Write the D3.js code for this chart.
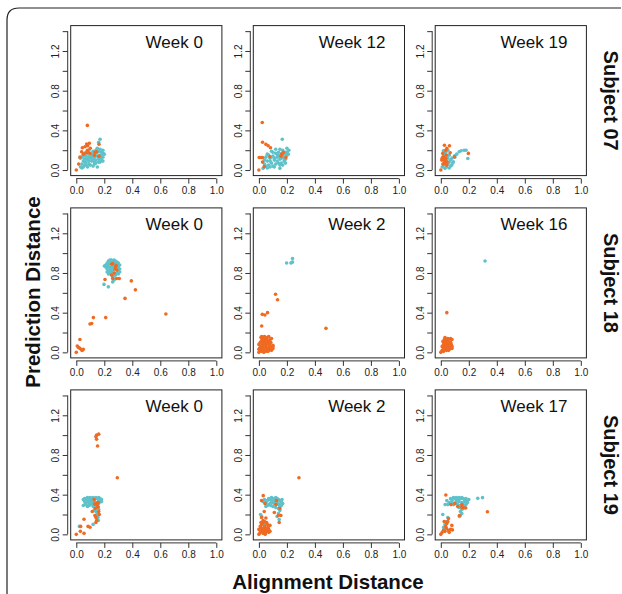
<!DOCTYPE html>
<html><head><meta charset="utf-8">
<script src="https://cdn.jsdelivr.net/npm/d3@7"></script>
<style>body{margin:0;background:#fff}svg{display:block}text{font-family:"Liberation Sans",Arial,Helvetica,sans-serif}</style>
</head><body>
<script>
const subjects = ["Subject 07", "Subject 18", "Subject 19"];
const weekLabels = [["Week 0", "Week 12", "Week 19"], ["Week 0", "Week 2", "Week 16"], ["Week 0", "Week 2", "Week 17"]];
const xTicks = [0, 0.2, 0.4, 0.6, 0.8, 1.0];
const yTicks = [0, 0.2, 0.4, 0.6, 0.8, 1.0, 1.2, 1.4];
const yLabelTicks = [0, 0.4, 0.8, 1.2];
const xTitle = "Alignment Distance";
const yTitle = "Prediction Distance";

// Subject 07
const s07w0Cyan = [[0.17,0.31],[0.16,0.28],[0.15,0.22],[0.17,0.21],[0.19,0.20],[0.18,0.18],[0.2,0.16],[0.19,0.13],[0.17,0.12],[0.18,0.10],[0.16,0.08],[0.15,0.03],[0.13,0.06],[0.14,0.10],[0.13,0.13],[0.14,0.17],[0.12,0.19],[0.11,0.16],[0.10,0.12],[0.11,0.09],[0.09,0.06],[0.08,0.03],[0.07,0.08],[0.06,0.11],[0.07,0.14],[0.08,0.17],[0.09,0.2],[0.06,0.05],[0.05,0.09],[0.04,0.13],[0.03,0.12],[0.04,0.06],[0.04,0.02],[0.05,0.03],[0.06,0.17],[0.1,0.05],[0.12,0.04],[0.12,0.11],[0.13,0.08],[0.15,0.14],[0.16,0.11],[0.17,0.15],[0.15,0.18],[0.14,0.2],[0.18,0.14],[0.19,0.17],[0.16,0.19],[0.11,0.13],[0.09,0.09],[0.08,0.11],[0.07,0.05],[0.1,0.15],[0.12,0.15],[0.17,0.08],[0.19,0.09],[0.14,0.07],[0.09,0.13],[0.06,0.08],[0.05,0.14],[0.03,0.03]];
const s07w0Orange = [[0.0,0.0],[0.017,0.06],[0.026,0.13],[0.079,0.45],[0.043,0.225],[0.062,0.235],[0.081,0.245],[0.093,0.27],[0.069,0.175],[0.05,0.16],[0.10,0.22],[0.129,0.15],[0.145,0.185],[0.162,0.14],[0.162,0.26],[0.098,0.17],[0.079,0.20],[0.038,0.185],[0.074,0.262],[0.086,0.174],[0.133,0.18]];
const s07w12Cyan = [[0.167,0.31],[0.15,0.017],[0.03,0.017],[0.214,0.2],[0.2,0.22],[0.19,0.18],[0.2,0.15],[0.18,0.12],[0.17,0.2],[0.16,0.16],[0.15,0.21],[0.14,0.18],[0.13,0.13],[0.12,0.17],[0.11,0.1],[0.1,0.14],[0.09,0.19],[0.08,0.12],[0.07,0.15],[0.06,0.09],[0.05,0.13],[0.04,0.06],[0.05,0.04],[0.07,0.05],[0.09,0.07],[0.1,0.04],[0.12,0.06],[0.13,0.09],[0.15,0.11],[0.16,0.07],[0.18,0.09],[0.19,0.11],[0.17,0.14],[0.14,0.14],[0.11,0.12],[0.08,0.09],[0.06,0.16],[0.1,0.18],[0.12,0.21],[0.13,0.16],[0.2,0.18],[0.21,0.16],[0.18,0.16],[0.16,0.12],[0.15,0.05],[0.11,0.03],[0.08,0.03],[0.06,0.02],[0.04,0.1],[0.14,0.07],[0.17,0.05],[0.19,0.07]];
const s07w12Orange = [[0.024,0.48],[0.0,0.0],[0.026,0.28],[0.05,0.26],[0.066,0.245],[0.083,0.225],[0.002,0.127],[0.026,0.127],[0.026,0.08],[0.038,0.034],[0.079,0.134],[0.162,0.16],[0.174,0.178],[0.193,0.127],[0.157,0.14],[0.016,0.127]];
const s07w19Cyan = [[0.166,0.2],[0.145,0.195],[0.131,0.185],[0.114,0.16],[0.193,0.117],[0.098,0.144],[0.019,0.195],[0.03,0.017],[0.078,0.05],[0.09,0.084],[0.18,0.2],[0.01,0.03],[0.02,0.05],[0.04,0.03],[0.05,0.06],[0.06,0.08],[0.07,0.1],[0.05,0.12],[0.03,0.14],[0.06,0.15],[0.08,0.12],[0.04,0.09],[0.02,0.1],[0.07,0.04],[0.06,0.02],[0.03,0.07],[0.085,0.07],[0.1,0.13],[0.02,0.17],[0.015,0.13],[0.035,0.18],[0.05,0.2]];
const s07w19Orange = [[0,0],[0.026,0.25],[0.062,0.245],[0.043,0.22],[0.019,0.134],[0.007,0.1],[0.036,0.117],[0.067,0.174],[0.098,0.134],[0.197,0.168],[0.024,0.067],[0.043,0.05],[0.014,0.168],[0.01,0.12],[0.03,0.09],[0.02,0.11],[0.04,0.15],[0.045,0.08],[0.015,0.06],[0.035,0.2]];

// Subject 18
const s18w0Cyan = [[0.198,0.685],[0.229,0.66],[0.26,0.71],[0.27,0.73],[0.21,0.88],[0.22,0.9],[0.23,0.92],[0.24,0.93],[0.25,0.93],[0.26,0.92],[0.27,0.93],[0.28,0.92],[0.29,0.91],[0.3,0.9],[0.31,0.88],[0.3,0.86],[0.31,0.84],[0.3,0.82],[0.29,0.8],[0.28,0.78],[0.27,0.77],[0.26,0.76],[0.25,0.78],[0.24,0.8],[0.23,0.82],[0.22,0.84],[0.21,0.86],[0.2,0.87],[0.22,0.87],[0.24,0.89],[0.26,0.9],[0.28,0.89],[0.29,0.87],[0.27,0.86],[0.25,0.85],[0.23,0.86],[0.24,0.83],[0.26,0.83],[0.28,0.84],[0.29,0.83],[0.27,0.8],[0.25,0.81],[0.23,0.79],[0.26,0.87],[0.28,0.86],[0.3,0.88],[0.25,0.91],[0.23,0.89],[0.27,0.89],[0.29,0.85],[0.24,0.86],[0.22,0.81],[0.3,0.79],[0.31,0.81]];
const s18w0Orange = [[0,0],[0.007,0.064],[0.026,0.04],[0.038,0.024],[0.026,0.13],[0.043,0.02],[0.098,0.285],[0.11,0.29],[0.122,0.35],[0.21,0.35],[0.205,0.735],[0.348,0.544],[0.393,0.72],[0.422,0.63],[0.64,0.386],[0.253,0.89],[0.284,0.875],[0.277,0.84],[0.27,0.8],[0.253,0.78],[0.26,0.745],[0.288,0.745],[0.307,0.745],[0.26,0.895],[0.28,0.86],[0.29,0.83],[0.05,0.03],[0.015,0.05]];
const s18w2Cyan = [[0.198,0.9],[0.229,0.9],[0.24,0.91],[0.24,0.945],[0.235,0.905]];
const s18w2Orange = [[0.119,0.585],[0.133,0.53],[0.024,0.383],[0.043,0.376],[0.062,0.4],[0.02,0.265],[0.479,0.242],[0.0,0.0],[0.01,0.02],[0.02,0.01],[0.03,0.03],[0.04,0.02],[0.05,0.01],[0.06,0.03],[0.07,0.02],[0.08,0.04],[0.09,0.05],[0.1,0.06],[0.01,0.05],[0.02,0.07],[0.03,0.09],[0.04,0.11],[0.05,0.13],[0.06,0.15],[0.07,0.16],[0.04,0.16],[0.03,0.14],[0.02,0.12],[0.01,0.1],[0.0,0.08],[0.005,0.04],[0.015,0.15],[0.03,0.05],[0.05,0.06],[0.06,0.09],[0.07,0.11],[0.08,0.13],[0.09,0.14],[0.08,0.07],[0.07,0.05],[0.05,0.04],[0.04,0.07],[0.02,0.03],[0.1,0.04],[0.09,0.02],[0.06,0.12],[0.05,0.09],[0.03,0.12],[0.02,0.16],[0.07,0.08],[0.1,0.07],[0.085,0.1],[0.065,0.01],[0.035,0.0],[0.0,0.03],[0.045,0.14]];
const s18w16Cyan = [[0.316,0.92]];
const s18w16Orange = [[0.043,0.4],[0.0,0.0],[0.01,0.02],[0.02,0.01],[0.03,0.03],[0.04,0.02],[0.05,0.04],[0.06,0.03],[0.07,0.05],[0.08,0.06],[0.01,0.06],[0.02,0.08],[0.03,0.1],[0.04,0.12],[0.05,0.14],[0.06,0.13],[0.07,0.14],[0.08,0.13],[0.02,0.04],[0.03,0.06],[0.04,0.08],[0.05,0.07],[0.06,0.09],[0.07,0.1],[0.08,0.04],[0.05,0.1],[0.03,0.15],[0.015,0.11],[0.06,0.06],[0.04,0.05],[0.025,0.13],[0.055,0.02],[0.075,0.08]];

// Subject 19
const s19w0Cyan = [[0.022,0.08],[0.05,0.35],[0.05,0.29],[0.12,0.1],[0.145,0.19],[0.157,0.14],[0.06,0.33],[0.07,0.36],[0.08,0.37],[0.09,0.35],[0.1,0.37],[0.11,0.36],[0.12,0.37],[0.13,0.36],[0.14,0.37],[0.15,0.36],[0.16,0.37],[0.17,0.36],[0.18,0.35],[0.17,0.33],[0.16,0.31],[0.15,0.3],[0.14,0.32],[0.13,0.33],[0.12,0.31],[0.11,0.33],[0.1,0.34],[0.09,0.32],[0.08,0.33],[0.07,0.3],[0.1,0.3],[0.12,0.28],[0.13,0.3],[0.15,0.27],[0.16,0.25],[0.14,0.27],[0.14,0.23],[0.15,0.21],[0.13,0.25],[0.16,0.34],[0.18,0.33],[0.11,0.31],[0.09,0.29],[0.06,0.36],[0.065,0.31],[0.08,0.28],[0.155,0.17]];
const s19w0Orange = [[0,0],[0.029,0.03],[0.055,0.01],[0.031,0.08],[0.055,0.152],[0.084,0.08],[0.098,0.072],[0.145,1.0],[0.16,1.01],[0.14,0.984],[0.145,0.958],[0.152,0.891],[0.293,0.57],[0.127,0.35],[0.131,0.305],[0.145,0.31],[0.157,0.32],[0.136,0.26],[0.157,0.275],[0.114,0.23],[0.133,0.19],[0.145,0.14],[0.14,0.17],[0.164,0.2],[0.16,0.23],[0.15,0.29],[0.14,0.12]];
const s19w2Cyan = [[0.012,0.2],[0.145,0.15],[0.03,0.33],[0.04,0.35],[0.05,0.32],[0.06,0.34],[0.07,0.36],[0.08,0.35],[0.09,0.37],[0.1,0.36],[0.11,0.35],[0.12,0.37],[0.13,0.36],[0.14,0.35],[0.15,0.34],[0.16,0.33],[0.17,0.31],[0.16,0.29],[0.15,0.28],[0.14,0.3],[0.13,0.32],[0.12,0.33],[0.11,0.31],[0.1,0.32],[0.09,0.33],[0.08,0.31],[0.07,0.3],[0.06,0.29],[0.05,0.28],[0.1,0.28],[0.12,0.27],[0.14,0.26],[0.15,0.24],[0.14,0.21],[0.13,0.18],[0.02,0.18],[0.03,0.12],[0.04,0.1],[0.165,0.35],[0.155,0.31],[0.11,0.34],[0.085,0.29]];
const s19w2Orange = [[0.286,0.57],[0.031,0.39],[0.019,0.34],[0.043,0.31],[0.038,0.23],[0.05,0.165],[0.019,0.17],[0.126,0.34],[0.121,0.3],[0.11,0.22],[0.15,0.26],[0.138,0.19],[0.157,0.19],[0.145,0.12],[0.079,0.09],[0.079,0.03],[0,0],[0.01,0.02],[0.02,0.04],[0.03,0.01],[0.04,0.03],[0.05,0.02],[0.06,0.04],[0.07,0.05],[0.01,0.08],[0.02,0.1],[0.03,0.12],[0.04,0.08],[0.05,0.06],[0.06,0.1],[0.07,0.02],[0.02,0.06],[0.03,0.14],[0.04,0.13],[0.015,0.12],[0.055,0.12],[0.065,0.07],[0.035,0.06],[0.0,0.05],[0.045,0.0]];
const s19w17Cyan = [[0.264,0.363],[0.298,0.37],[0.014,0.2],[0.031,0.3],[0.043,0.34],[0.133,0.18],[0.07,0.36],[0.08,0.34],[0.09,0.37],[0.1,0.36],[0.11,0.37],[0.12,0.36],[0.13,0.37],[0.14,0.36],[0.15,0.37],[0.16,0.36],[0.17,0.35],[0.18,0.36],[0.19,0.34],[0.2,0.35],[0.19,0.32],[0.18,0.3],[0.17,0.28],[0.16,0.26],[0.15,0.25],[0.14,0.23],[0.15,0.21],[0.14,0.19],[0.13,0.27],[0.12,0.3],[0.11,0.33],[0.1,0.31],[0.09,0.3],[0.08,0.32],[0.13,0.33],[0.15,0.32],[0.16,0.3],[0.17,0.33],[0.14,0.29],[0.12,0.34],[0.06,0.32],[0.05,0.3],[0.03,0.1],[0.04,0.13],[0.02,0.07],[0.05,0.17]];
const s19w17Orange = [[0.036,0.396],[0.333,0.228],[0,0],[0.072,0.3],[0.1,0.31],[0.121,0.28],[0.15,0.27],[0.178,0.265],[0.133,0.19],[0.055,0.16],[0.024,0.13],[0.043,0.11],[0.079,0.09],[0.019,0.04],[0.055,0.04],[0.083,0.045],[0.01,0.02],[0.03,0.03],[0.04,0.06],[0.06,0.02],[0.07,0.05],[0.05,0.13],[0.035,0.08],[0.15,0.3],[0.16,0.27]];

const cyanData = [[s07w0Cyan, s07w12Cyan, s07w19Cyan], [s18w0Cyan, s18w2Cyan, s18w16Cyan], [s19w0Cyan, s19w2Cyan, s19w17Cyan]];
const orangeData = [[s07w0Orange, s07w12Orange, s07w19Orange], [s18w0Orange, s18w2Orange, s18w16Orange], [s19w0Orange, s19w2Orange, s19w17Orange]];

const W = 622, H = 594;
const colLeft = [70.7, 253.3, 435.2];
const rowTop = [25.6, 207.9, 389.9];
const pw = 151.2, ph = 150;
const CYAN = "#5ec2ca", ORANGE = "#ef6a22";

const svg = d3.select("body").append("svg").attr("width", W).attr("height", H);

// outer rounded frame
svg.append("path")
  .attr("d", `M7,${H + 5} L7,20 Q7,8 19,8 L621,8`)
  .attr("fill", "none").attr("stroke", "#222").attr("stroke-width", 1.2);

for (let r = 0; r < 3; r++) {
  for (let c = 0; c < 3; c++) {
    const L = colLeft[c], T = rowTop[r];
    const x = d3.scaleLinear().domain([-0.04, 1.04]).range([L, L + pw]);
    const y = d3.scaleLinear().domain([-0.056, 1.456]).range([T + ph, T]);
    const g = svg.append("g");

    // y axis (offset)
    const ya = g.append("g").attr("transform", `translate(${L - 3},0)`)
      .call(d3.axisLeft(y).tickValues(yTicks).tickSize(5).tickFormat(d => yLabelTicks.some(v => Math.abs(v - d) < 1e-9) ? d3.format(".1f")(d) : ""));
    ya.select(".domain").attr("stroke", "#333").attr("d", `M0,${y(0)}V${y(1.4)}`);
    ya.selectAll(".tick line").attr("stroke", "#333");
    ya.selectAll(".tick text")
      .attr("font-size", 10).attr("fill", "#222")
      .attr("transform", null)
      .attr("x", null).attr("dy", null)
      .attr("text-anchor", "middle")
      .attr("transform", "translate(-12,0) rotate(-90)")
      .attr("dy", "0.35em");

    // x axis (offset)
    const xa = g.append("g").attr("transform", `translate(0,${T + ph + 3})`)
      .call(d3.axisBottom(x).tickValues(xTicks).tickSize(5).tickFormat(d3.format(".1f")));
    xa.select(".domain").attr("stroke", "#333").attr("d", `M${x(0)},0H${x(1)}`);
    xa.selectAll(".tick line").attr("stroke", "#333");
    xa.selectAll(".tick text").attr("font-size", 10).attr("fill", "#222").attr("y", 8);

    // box
    g.append("rect").attr("x", L).attr("y", T).attr("width", pw).attr("height", ph)
      .attr("fill", "none").attr("stroke", "#222").attr("stroke-width", 1);

    // points
    g.append("g").selectAll("circle").data(cyanData[r][c]).join("circle")
      .attr("cx", d => x(d[0])).attr("cy", d => y(d[1])).attr("r", 1.8).attr("fill", CYAN);
    g.append("g").selectAll("circle").data(orangeData[r][c]).join("circle")
      .attr("cx", d => x(d[0])).attr("cy", d => y(d[1])).attr("r", 1.8).attr("fill", ORANGE);

    // week label
    g.append("text").attr("x", L + pw - 19).attr("y", T + 22)
      .attr("text-anchor", "end").attr("font-size", 17).attr("fill", "#111")
      .text(weekLabels[r][c]);
  }
  // subject label
  const cy = rowTop[r] + ph / 2;
  svg.append("text").attr("transform", `translate(604,${cy}) rotate(90)`)
    .attr("text-anchor", "middle").attr("font-size", 20).attr("font-weight", "bold").attr("fill", "#111")
    .text(subjects[r]);
}

svg.append("text").attr("x", 328).attr("y", 589).attr("text-anchor", "middle")
  .attr("font-size", 20.5).attr("font-weight", "bold").attr("fill", "#111").text(xTitle);
svg.append("text").attr("transform", `translate(40,292) rotate(-90)`).attr("text-anchor", "middle")
  .attr("font-size", 20.5).attr("font-weight", "bold").attr("fill", "#111").text(yTitle);
</script>
</body></html>
